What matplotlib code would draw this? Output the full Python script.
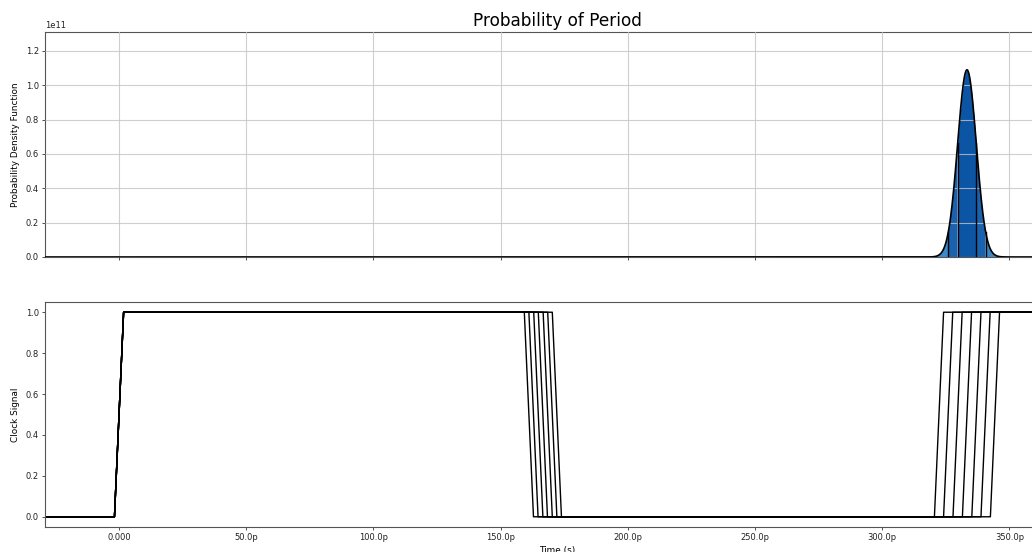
import numpy as np
import matplotlib
matplotlib.use("Agg")
import matplotlib.pyplot as plt
from matplotlib.ticker import FuncFormatter, MultipleLocator

# ---- data ----
pdf_mean_ps = 333.3          # mean period (ps)
pdf_sigma_ps = 3.66          # std-dev of period (ps)
band_sigmas = [1, 2]         # vertical lines at +/- 1 and 2 sigma
band_colors = ["#0c55a4", "#1a62ae", "#3c88c8"]   # |x|<1s, 1-2s, >2s

clock_rise_time_ps = 3.6
first_rise_ps = 0.0
fall_centers_ps = [161.1, 162.9, 164.8, 166.6, 168.5, 170.3, 172.1]
rise_centers_ps = [322.3, 325.9, 329.6, 333.3, 337.0, 340.6, 344.3]

xlim_ps = (-29.1, 373.4)
tick_values_ps = [0, 50, 100, 150, 200, 250, 300, 350]

# ---- figure ----
fig = plt.figure(figsize=(10.32, 5.52), dpi=100)
left, right = 45 / 1032, 1069 / 1032
ax1 = fig.add_axes([left, 1 - 257 / 552, right - left, 225 / 552])
ax2 = fig.add_axes([left, 1 - 527 / 552, right - left, 225 / 552], sharex=ax1)

ps = 1e-12
x = np.linspace(xlim_ps[0], xlim_ps[1], 6000) * ps
mu, sg = pdf_mean_ps * ps, pdf_sigma_ps * ps
pdf = np.exp(-0.5 * ((x - mu) / sg) ** 2) / (sg * np.sqrt(2 * np.pi))

# filled bands
z = np.abs(x - mu) / sg
ax1.fill_between(x, 0, pdf, where=z >= band_sigmas[1], color=band_colors[2], lw=0, zorder=1)
ax1.fill_between(x, 0, pdf, where=(z >= band_sigmas[0]) & (z <= band_sigmas[1]),
                 color=band_colors[1], lw=0, zorder=1)
ax1.fill_between(x, 0, pdf, where=z <= band_sigmas[0], color=band_colors[0], lw=0, zorder=1)
for k in band_sigmas:
    for s in (-1, 1):
        xv = mu + s * k * sg
        yv = np.exp(-0.5 * k ** 2) / (sg * np.sqrt(2 * np.pi))
        ax1.plot([xv, xv], [0, yv], color="black", lw=1.0, zorder=3)
ax1.plot(x, pdf, color="black", lw=1.2, zorder=4)

ax1.set_ylim(0, 1.31e11)
ax1.grid(True, color="#c4c4c4", lw=0.8, zorder=2)
ax1.set_axisbelow(False)
for gl in ax1.get_xgridlines() + ax1.get_ygridlines():
    gl.set_alpha(0.8)
ax1.set_ylabel("Probability Density Function", fontsize=6.4)
ax1.set_title("Probability of Period", fontsize=12.2, pad=4)
ax1.yaxis.get_offset_text().set_fontsize(6.0)
plt.setp(ax1.get_xticklabels(), visible=False)

# clock traces
rt = clock_rise_time_ps
for f, r in zip(fall_centers_ps, rise_centers_ps):
    tx = np.array([xlim_ps[0] - 10, first_rise_ps - rt / 2, first_rise_ps + rt / 2,
                   f - rt / 2, f + rt / 2, r - rt / 2, r + rt / 2, xlim_ps[1] + 10]) * ps
    ty = [0, 0, 1, 1, 0, 0, 1, 1]
    ax2.plot(tx, ty, color="black", lw=1.0)
ax2.set_ylim(-0.05, 1.05)
ax2.set_ylabel("Clock Signal", fontsize=6.4)
ax2.set_xlabel("Time (s)", fontsize=6.4, labelpad=3)

ax2.set_xticks([v * ps for v in tick_values_ps])
ax2.set_xlim(xlim_ps[0] * ps, xlim_ps[1] * ps)


def fmt(v, pos):
    if abs(v) < 1e-15:
        return "0.000"
    return f"{v / ps:.1f}p"


ax2.xaxis.set_major_formatter(FuncFormatter(fmt))
ax2.yaxis.set_major_locator(MultipleLocator(0.2))
ax1.yaxis.set_major_locator(MultipleLocator(0.2e11))

for ax in (ax1, ax2):
    ax.tick_params(labelsize=6.0, length=2.5, width=0.6, pad=2, colors="#333333",
                   labelcolor="#222222")
    for sp in ax.spines.values():
        sp.set_color("#555555")
        sp.set_linewidth(0.8)
    ax.yaxis.set_label_coords(-0.0245, 0.5)

fig.savefig("out.png", dpi=100)
